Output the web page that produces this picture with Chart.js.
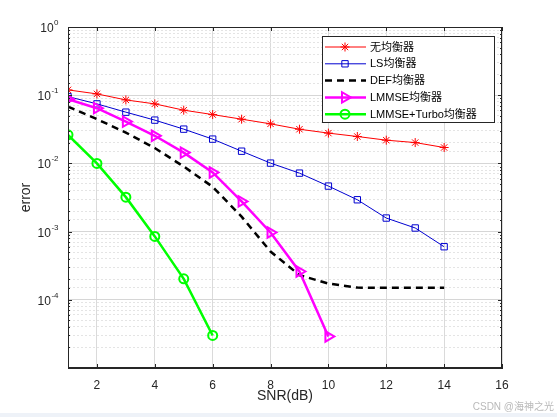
<!DOCTYPE html>
<html>
<head>
<meta charset="utf-8">
<script src="https://cdn.jsdelivr.net/npm/chart.js@4.4.1/dist/chart.umd.min.js"></script>
<style>
  html, body { margin: 0; padding: 0; background: #fff; }
  #wrap { position: relative; width: 557px; height: 417px; overflow: hidden; }
  #mark { position: absolute; right: 3px; top: 398px; font: 10px "Liberation Sans", "Noto Sans CJK SC", sans-serif; color: #b9b9b9; }
  #band { position: absolute; left: 0; right: 0; bottom: 0; height: 4px; background: #eef2f8; }
</style>
</head>
<body>
<div id="wrap">
  <canvas id="berChart" width="557" height="417"></canvas>
  <span id="mark">CSDN @海神之光</span>
  <div id="band"></div>
</div>
<script>
const snr = [1, 2, 3, 4, 5, 6, 7, 8, 9, 10, 11, 12, 13, 14];

const errNone = [0.1196, 0.1045, 0.0853, 0.0746, 0.0603, 0.052, 0.0445, 0.038, 0.0317, 0.0278, 0.0248, 0.0219, 0.0202, 0.0171];
const errLs = [0.0954, 0.0746, 0.0564, 0.0431, 0.0318, 0.0227, 0.0151, 0.0101, 0.0072, 0.00465, 0.00293, 0.00158, 0.00113, 0.0006];
const errDef = [0.068, 0.0446, 0.0283, 0.0168, 0.009, 0.00454, 0.00166, 0.00051, 0.00023, 0.000173, 0.000151, 0.00015, 0.00015, 0.00015];
const errLmmse = [0.0874, 0.0645, 0.041, 0.0254, 0.0144, 0.00736, 0.00277, 0.00097, 0.00026, 0.000029];
const errTurbo = [0.0262, 0.01, 0.0032, 0.00085, 0.000203, 0.00003];

const seriesNames = ['无均衡器', 'LS均衡器', 'DEF均衡器', 'LMMSE均衡器', 'LMMSE+Turbo均衡器'];
const yTickExps = [0, -1, -2, -3, -4];

const axisColor = '#262626';
const tickFont = { family: '"Liberation Sans", Arial, sans-serif', size: 12 };

function toPoints(ys) {
  return ys.map((v, i) => ({ x: snr[i], y: v }));
}

function isDecade(v) {
  const e = Math.log10(v);
  return Math.abs(e - Math.round(e)) < 1e-6;
}

// box around the axes, inward ticks, y labels as 10^n, legend in the upper right
const extras = {
  id: 'extras',
  afterDraw(chart) {
    const { ctx, chartArea: a } = chart;
    const xScale = chart.scales.x, yScale = chart.scales.y;
    ctx.save();
    ctx.strokeStyle = axisColor;
    ctx.lineWidth = 1;
    ctx.setLineDash([]);
    ctx.strokeRect(Math.round(a.left) + 0.5, Math.round(a.top) + 0.5, Math.round(a.right - a.left) - 1, Math.round(a.bottom - a.top) - 1);

    ctx.beginPath();
    xScale.ticks.forEach(t => {
      const px = Math.round(xScale.getPixelForValue(t.value)) + 0.5;
      ctx.moveTo(px, a.bottom); ctx.lineTo(px, a.bottom - 4);
      ctx.moveTo(px, a.top); ctx.lineTo(px, a.top + 4);
    });
    yScale.ticks.forEach(t => {
      const py = Math.round(yScale.getPixelForValue(t.value)) + 0.5;
      const len = isDecade(t.value) ? 4 : 2;
      ctx.moveTo(a.left, py); ctx.lineTo(a.left + len, py);
      ctx.moveTo(a.right, py); ctx.lineTo(a.right - len, py);
    });
    ctx.stroke();

    ctx.fillStyle = axisColor;
    ctx.textBaseline = 'alphabetic';
    yTickExps.forEach(e => {
      const py = yScale.getPixelForValue(Math.pow(10, e));
      const exp = String(e);
      ctx.font = '8px "Liberation Sans", Arial, sans-serif';
      const expW = ctx.measureText(exp).width;
      const xBase = a.left - 10 - expW;
      ctx.textAlign = 'left';
      ctx.fillText(exp, xBase + 0.5, py - 2);
      ctx.font = '12px "Liberation Sans", Arial, sans-serif';
      ctx.textAlign = 'right';
      ctx.fillText('10', xBase, py + 5);
    });

    const w = 172, h = 86;
    const lx = Math.round(a.right - 8 - w), ly = Math.round(a.top + 9);
    ctx.fillStyle = '#fff';
    ctx.fillRect(lx, ly, w, h);
    ctx.strokeStyle = axisColor;
    ctx.lineWidth = 1;
    ctx.strokeRect(lx + 0.5, ly + 0.5, w, h);
    ctx.font = '11px "Liberation Sans", Arial, "Noto Sans CJK SC", sans-serif';
    ctx.textAlign = 'left';
    ctx.textBaseline = 'middle';
    chart.data.datasets.forEach((ds, i) => {
      const y = ly + 11 + i * 16.8;
      ctx.strokeStyle = ds.borderColor;
      ctx.lineWidth = ds.borderWidth;
      ctx.setLineDash(ds.borderDash || []);
      ctx.beginPath();
      ctx.moveTo(lx + 3, y);
      ctx.lineTo(lx + 44, y);
      ctx.stroke();
      ctx.setLineDash([]);
      if (ds.pointRadius > 0) {
        ctx.strokeStyle = ds.pointBorderColor;
        ctx.fillStyle = ds.pointBackgroundColor;
        ctx.lineWidth = ds.pointBorderWidth;
        Chart.helpers.drawPoint(ctx, {
          pointStyle: ds.pointStyle,
          radius: ds.pointRadius,
          rotation: ds.pointRotation || 0,
          borderWidth: ds.pointBorderWidth
        }, lx + 23, y);
      }
      ctx.fillStyle = '#000';
      ctx.fillText(ds.label, lx + 48, y + 0.5);
    });
    ctx.restore();
  }
};

const none = 'rgba(0,0,0,0)';

const berChart = new Chart(document.getElementById('berChart'), {
  type: 'line',
  data: {
    datasets: [
      {
        label: seriesNames[0], data: toPoints(errNone), order: 5,
        borderColor: '#ff0000', borderWidth: 1,
        pointStyle: 'star', pointRadius: 4.5, pointBorderWidth: 1,
        pointBorderColor: '#ff0000', pointBackgroundColor: none
      },
      {
        label: seriesNames[1], data: toPoints(errLs), order: 4,
        borderColor: '#0000d0', borderWidth: 1,
        pointStyle: 'rect', pointRadius: 4.5, pointBorderWidth: 1,
        pointBorderColor: '#0000d0', pointBackgroundColor: none
      },
      {
        label: seriesNames[2], data: toPoints(errDef), order: 3,
        borderColor: '#000000', borderWidth: 2.5, borderDash: [7, 5],
        pointRadius: 0, pointBorderWidth: 0
      },
      {
        label: seriesNames[3], data: toPoints(errLmmse), order: 2,
        borderColor: '#ff00ff', borderWidth: 2.5,
        pointStyle: 'triangle', pointRotation: 90, pointRadius: 6, pointBorderWidth: 2,
        pointBorderColor: '#ff00ff', pointBackgroundColor: none
      },
      {
        label: seriesNames[4], data: toPoints(errTurbo), order: 1,
        borderColor: '#00ff00', borderWidth: 2.5,
        pointStyle: 'circle', pointRadius: 4.5, pointBorderWidth: 2,
        pointBorderColor: '#00ff00', pointBackgroundColor: none
      }
    ]
  },
  options: {
    responsive: false,
    animation: false,
    layout: { padding: { top: 27, right: 55, left: 0, bottom: 0 } },
    elements: { line: { tension: 0, fill: false } },
    plugins: {
      legend: { display: false },
      tooltip: { enabled: false }
    },
    scales: {
      x: {
        type: 'linear',
        min: 1,
        max: 16,
        afterFit: (s) => { s.height = 49; },
        ticks: { stepSize: 2, includeBounds: false, padding: 10, font: tickFont, color: axisColor, maxRotation: 0, autoSkip: false },
        grid: { color: '#dadada', drawTicks: false },
        border: { color: axisColor },
        title: { display: true, text: 'SNR(dB)', color: axisColor, font: { family: tickFont.family, size: 14 }, padding: { top: 0, bottom: 12 } }
      },
      y: {
        type: 'logarithmic',
        min: 1e-5,
        max: 1,
        afterFit: (s) => { s.width = 68; },
        ticks: { display: false },
        grid: {
          drawTicks: false,
          color: (c) => (c.tick && !isDecade(c.tick.value)) ? '#e4e4e4' : '#d6d6d6'
        },
        border: {
          color: axisColor,
          dash: (c) => (c.tick && !isDecade(c.tick.value)) ? [2, 2] : []
        },
        title: { display: true, text: 'error', color: axisColor, font: { family: tickFont.family, size: 14 }, padding: { top: 18, bottom: 0 } }
      }
    }
  },
  plugins: [extras]
});
</script>
</body>
</html>
